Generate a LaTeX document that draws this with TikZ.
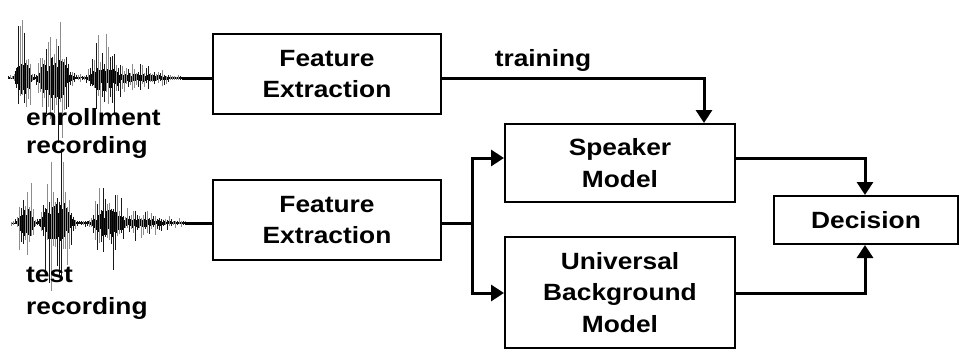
\documentclass[tikz,border=0pt]{standalone}
\usepackage{fontspec}
\setmainfont{Liberation Sans}[FakeStretch=1.12]
\usetikzlibrary{arrows.meta,calc}
% envelope of a recorded utterance, u = distance from the start of the waveform
\newcommand\wavenv[1]{3+56*exp(-(min(abs((#1-15)/7.5),4))^4)+72*exp(-(min(abs((#1-46)/14.5),4))^4)+38*exp(-(min(abs((#1-96)/13),4))^4)+16*exp(-min(((#1-122)/32)^2,20))}
\newcommand\drawwave[3]{%
  \pgfmathsetseed{#3}%
  % dense dark core
  \foreach \i in {0,...,348}{%
    \pgfmathsetmacro\amx{#1+\i*0.5}%
    \pgfmathsetmacro\amu{\i*0.5}%
    \pgfmathsetmacro\amenv{\wavenv{\amu}}%
    \pgfmathsetmacro\amup{\amenv*(0.08+0.2*rnd)}%
    \pgfmathsetmacro\amdn{\amenv*(0.08+0.2*rnd)}%
    \draw[line width=0.6pt, black] (\amx,#2-\amup) -- (\amx,#2+\amdn);
  }%
  % pitch spikes
  \foreach \i in {0,...,87}{%
    \pgfmathsetmacro\amu{\i*2.0+0.6*rnd}%
    \pgfmathsetmacro\amx{#1+\amu}%
    \pgfmathsetmacro\amenv{\wavenv{\amu}}%
    \pgfmathsetmacro\amr{rnd}%
    \pgfmathsetmacro\ams{rnd}%
    \pgfmathsetmacro\amup{\amenv*(0.28+0.72*\amr*\amr)}%
    \pgfmathsetmacro\amdn{\amenv*(0.28+0.72*\ams*\ams)}%
    \pgfmathsetmacro\amg{rnd>0.45?45:90}%
    \draw[line width=0.8pt, black!\amg] (\amx,#2-\amup) -- (\amx,#2+\amdn);
  }%
}
\tikzset{
  box/.style={draw=black, line width=2pt, align=center, font=\fontsize{23.5}{31.6}\selectfont\bfseries, inner sep=0pt},
  lab/.style={font=\fontsize{23.5}{31.6}\selectfont\bfseries, inner sep=0pt},
  conn/.style={line width=3pt},
  arr/.style={line width=3pt, -{Triangle[length=13pt,width=16pt]}},
}
\begin{document}
\begin{tikzpicture}[x=1pt,y=-1pt]
\useasboundingbox[fill=white] (0,0) rectangle (959,349);
% waveforms
\drawwave{8}{78}{7}
\drawwave{11}{223}{11}
\coordinate (w1) at (182,78);
\coordinate (w2) at (185,223);
% boxes
\node[box, minimum width=228pt, minimum height=80pt] (fe1) at (327,74) {Feature\\Extraction};
\node[box, minimum width=228pt, minimum height=80pt] (fe2) at (327,220) {Feature\\Extraction};
\node[box, minimum width=230pt, minimum height=78pt] (sm) at (620,163) {Speaker\\Model};
\node[box, minimum width=230pt, minimum height=111pt] (ubm) at (620,292.5) {Universal\\Background\\Model};
\node[box, minimum width=184pt, minimum height=48pt] (dec) at (866,220) {Decision};
% labels
\node[lab, anchor=base] (tr) at (543,66.5) {training};
\node[lab, anchor=base west] (en1) at (26,125) {enrollment};
\node[lab, anchor=base west] (en2) at (26,153) {recording};
\node[lab, anchor=base west] (te1) at (26,282) {test};
\node[lab, anchor=base west] (te2) at (26,314) {recording};
% connectors
\coordinate (t) at (704,78);
\coordinate (b) at (472,223);
\coordinate (d) at (865,158);
\coordinate (e) at (865,293);
\draw[conn] (w1) -- (w1 -| fe1.west);
\draw[conn] (w2) -- (w2 -| fe2.west);
\draw[arr] (fe1.east |- t) -- (t) -- (t |- sm.north);
\draw[conn] (fe2.east |- b) -- (b);
\draw[arr] ($(b)+(0,1.5)$) -- (b |- d) -- (sm.west |- d);
\draw[arr] ($(b)-(0,1.5)$) -- (b |- e) -- (ubm.west |- e);
\draw[arr] (sm.east |- d) -- (d) -- (d |- dec.north);
\draw[arr] (ubm.east |- e) -- (e) -- (e |- dec.south);
\end{tikzpicture}
\end{document}
